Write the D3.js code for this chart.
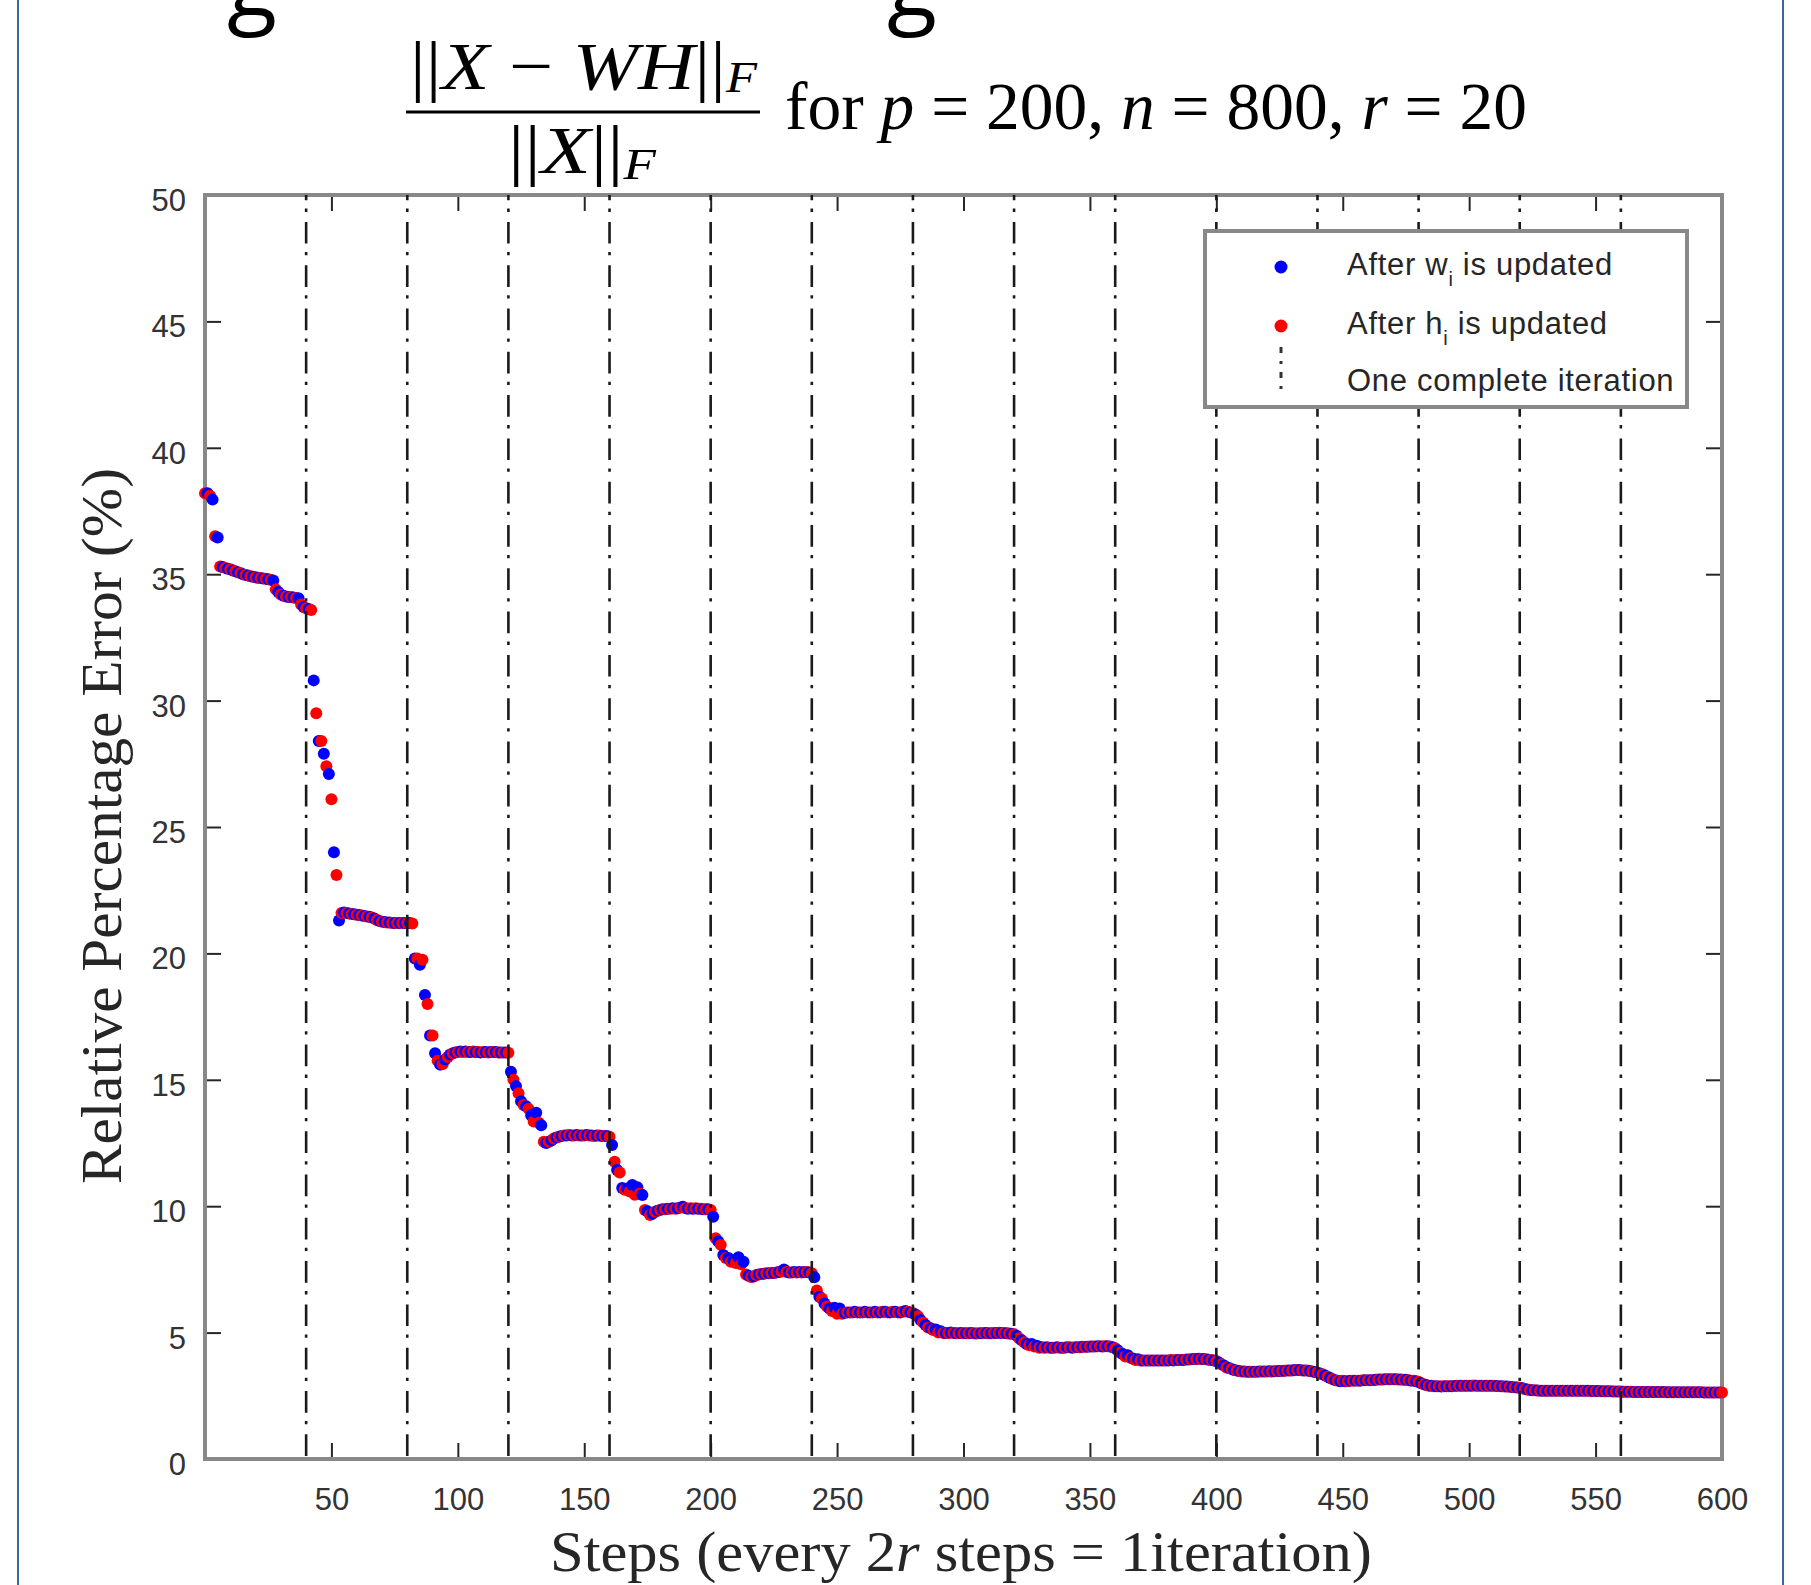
<!DOCTYPE html>
<html><head><meta charset="utf-8">
<script src="https://cdn.jsdelivr.net/npm/d3@7"></script>
<style>body{margin:0;background:#fff;} svg{display:block;}</style>
</head><body>
<svg id="chart" width="1811" height="1585"></svg>
<script>
// Relative percentage error after each step (step 0 .. 600).
// Odd steps: after w_i is updated (blue); even steps: after h_i is updated (red).
const errorByStep = [
 38.2,38.2,38.1,37.95,36.5,36.45,35.3,35.28,35.25,35.22, 35.2,35.15,35.12,35.08,35.05,35.0,34.97,34.95,34.92,34.9,
 34.88,34.86,34.85,34.83,34.82,34.8,34.78,34.75,34.4,34.3, 34.2,34.15,34.12,34.1,34.1,34.08,34.06,34.05,33.8,33.7,
 33.65,
 33.62,33.58,30.8,29.5,28.4,28.4,27.9,27.4,27.1,26.1, 24.0,23.1,21.3,21.6,21.62,21.6,21.58,21.56,21.55,21.53,
 21.52,21.5,21.48,21.46,21.45,21.42,21.38,21.32,21.28,21.25, 21.24,21.22,21.22,21.2,21.2,21.2,21.2,21.2,21.2,21.2,
 21.2,21.18,19.8,19.8,19.55,19.75,18.35,18.0,16.75,16.75, 16.05,15.75,15.6,15.62,15.8,15.9,16.0,16.05,16.08,16.1,
 16.12,16.1,16.12,16.1,16.1,16.12,16.1,16.1,16.08,16.1, 16.1,16.08,16.1,16.1,16.1,16.08,16.08,16.08,16.08,16.07,
 15.32,15.0,14.75,14.47,14.15,14.0,13.95,13.85,13.6,13.35, 13.7,13.3,13.2,12.55,12.5,12.55,12.6,12.68,12.72,12.75,
 12.78,12.8,12.8,12.82,12.8,12.8,12.82,12.8,12.8,12.8, 12.82,12.8,12.8,12.78,12.8,12.8,12.78,12.78,12.78,12.75,
 12.42,11.76,11.43,11.33,10.72,10.65,10.7,10.58,10.84,10.45, 10.75,10.5,10.44,9.85,9.8,9.65,9.7,9.78,9.82,9.85,
 9.88,9.88,9.9,9.9,9.92,9.9,9.92,9.95,9.98,9.92, 9.9,9.92,9.9,9.92,9.9,9.9,9.88,9.88,9.88,9.85,
 9.58,8.73,8.6,8.47,8.07,7.95,7.95,7.8,7.85,7.75, 7.98,7.7,7.8,7.3,7.25,7.2,7.22,7.28,7.3,7.32,
 7.33,7.35,7.35,7.36,7.36,7.38,7.4,7.42,7.5,7.4, 7.38,7.38,7.4,7.38,7.4,7.38,7.4,7.4,7.38,7.35,
 7.19,6.67,6.42,6.35,6.15,6.03,5.95,5.85,5.98,5.75, 5.95,5.75,5.78,5.8,5.8,5.8,5.82,5.8,5.8,5.8,
 5.82,5.8,5.8,5.8,5.82,5.8,5.8,5.82,5.82,5.8, 5.8,5.82,5.82,5.8,5.8,5.82,5.85,5.82,5.8,5.78,
 5.72,5.65,5.5,5.4,5.3,5.2,5.17,5.1,5.12,5.0, 5.05,4.98,4.98,4.98,5.0,4.98,4.97,4.97,4.98,4.97,
 4.97,4.97,4.98,4.97,4.96,4.97,4.97,4.98,4.98,4.97, 4.97,4.98,4.98,4.99,4.98,4.98,4.97,4.96,4.95,4.93,
 4.88,4.78,4.7,4.62,4.55,4.5,4.55,4.45,4.48,4.4, 4.42,4.4,4.42,4.4,4.4,4.4,4.42,4.4,4.4,4.4,
 4.42,4.42,4.4,4.42,4.42,4.42,4.44,4.44,4.44,4.45, 4.45,4.45,4.46,4.46,4.45,4.46,4.46,4.45,4.42,4.38,
 4.3,4.2,4.15,4.05,4.1,4.0,3.98,3.92,3.95,3.9, 3.9,3.9,3.9,3.9,3.9,3.9,3.9,3.9,3.9,3.9,
 3.9,3.92,3.9,3.92,3.92,3.92,3.92,3.94,3.94,3.95, 3.96,3.96,3.97,3.96,3.96,3.95,3.93,3.92,3.9,3.88,
 3.82,3.75,3.7,3.62,3.6,3.56,3.52,3.5,3.48,3.46, 3.46,3.45,3.45,3.45,3.45,3.45,3.46,3.46,3.46,3.46,
 3.47,3.46,3.47,3.48,3.48,3.48,3.49,3.5,3.5,3.5, 3.52,3.52,3.52,3.5,3.5,3.5,3.48,3.46,3.44,3.42,
 3.38,3.35,3.3,3.25,3.2,3.15,3.12,3.1,3.08,3.1, 3.08,3.08,3.1,3.1,3.1,3.1,3.1,3.12,3.12,3.12,
 3.12,3.12,3.13,3.14,3.14,3.14,3.15,3.15,3.15,3.15, 3.15,3.14,3.14,3.13,3.13,3.12,3.1,3.1,3.08,3.06,
 3.0,2.96,2.93,2.9,2.9,2.88,2.88,2.88,2.87,2.88, 2.88,2.88,2.88,2.89,2.9,2.9,2.9,2.9,2.9,2.9,
 2.9,2.91,2.9,2.9,2.9,2.9,2.9,2.9,2.9,2.9, 2.89,2.88,2.88,2.87,2.87,2.86,2.85,2.84,2.83,2.82,
 2.8,2.77,2.75,2.73,2.72,2.72,2.71,2.7,2.7,2.7, 2.7,2.7,2.7,2.7,2.7,2.7,2.7,2.7,2.7,2.7,
 2.7,2.7,2.7,2.7,2.7,2.7,2.7,2.69,2.69,2.69, 2.69,2.68,2.68,2.68,2.68,2.68,2.67,2.67,2.67,2.67,
 2.66,2.66,2.66,2.66,2.65,2.65,2.65,2.65,2.65,2.65, 2.65,2.65,2.65,2.65,2.65,2.65,2.65,2.64,2.64,2.64,
 2.64,2.64,2.64,2.64,2.64,2.64,2.64,2.64,2.64,2.64, 2.64,2.64,2.63,2.63,2.63,2.63,2.63,2.63,2.63,2.63
];
const iterationSteps = [40,80,120,160,200,240,280,320,360,400,440,480,520,560];
const xTickValues = [50,100,150,200,250,300,350,400,450,500,550,600];
const yTickValues = [0,5,10,15,20,25,30,35,40,45,50];
const seriesColors = ["#0000ff", "#ff0000"];
const legendEntries = [
  {main: "After w", sub: "i", rest: " is updated"},
  {main: "After h", sub: "i", rest: " is updated"},
  {main: "One complete iteration", sub: "", rest: ""}
];

const svg = d3.select("#chart");
const plot = {left: 205, right: 1722, top: 195, bottom: 1459};
const x = d3.scaleLinear().domain([0, 600]).range([plot.left, plot.right]);
const y = d3.scaleLinear().domain([0, 50]).range([plot.bottom, plot.top]);

// page frame lines
svg.append("line").attr("x1",18).attr("x2",18).attr("y1",0).attr("y2",1585).attr("stroke","#3d63a0").attr("stroke-width",2);
svg.append("line").attr("x1",1783).attr("x2",1783).attr("y1",0).attr("y2",1585).attr("stroke","#3d63a0").attr("stroke-width",2);
// partial glyphs at the very top (cut-off slide heading)
svg.append("text").attr("x",252).attr("y",16).attr("text-anchor","middle")
  .attr("font-family","Open Sans, sans-serif").attr("font-size",92).attr("fill","#000").text("g");
svg.append("text").attr("x",912).attr("y",16).attr("text-anchor","middle")
  .attr("font-family","Open Sans, sans-serif").attr("font-size",92).attr("fill","#000").text("g");

// axes ticks (inward, all four sides)
const tickColor = "#262626";
const fontAxis = "Liberation Sans, Arial, sans-serif";
function styleAxis(g, labels) {
  g.select(".domain").remove();
  g.selectAll(".tick line").attr("stroke", tickColor).attr("stroke-width", 2);
  g.selectAll(".tick text").attr("fill", "#333").attr("font-family", fontAxis).attr("font-size", 31);
  if (!labels) g.selectAll(".tick text").remove();
}
svg.append("g").attr("transform", `translate(0,${plot.bottom})`)
  .call(d3.axisBottom(x).tickValues(xTickValues).tickSizeInner(-16).tickSizeOuter(0).tickPadding(29))
  .call(g => styleAxis(g, true));
svg.append("g").attr("transform", `translate(0,${plot.top})`)
  .call(d3.axisTop(x).tickValues(xTickValues).tickSizeInner(-16).tickSizeOuter(0))
  .call(g => styleAxis(g, false));
svg.append("g").attr("transform", `translate(${plot.left},0)`)
  .call(d3.axisLeft(y).tickValues(yTickValues).tickSizeInner(-16).tickSizeOuter(0).tickPadding(19))
  .call(g => { styleAxis(g, true); g.selectAll(".tick text").attr("dy", "0.5em"); });
svg.append("g").attr("transform", `translate(${plot.right},0)`)
  .call(d3.axisRight(y).tickValues(yTickValues).tickSizeInner(-16).tickSizeOuter(0))
  .call(g => styleAxis(g, false));

// box
svg.append("rect").attr("x", plot.left).attr("y", plot.top)
  .attr("width", plot.right - plot.left).attr("height", plot.bottom - plot.top)
  .attr("fill", "none").attr("stroke", "#888").attr("stroke-width", 4);

// data points (in step order)
const points = errorByStep.map((v, i) => ({step: i, value: v}));
svg.append("g").selectAll("circle").data(points).join("circle")
  .attr("cx", d => x(d.step)).attr("cy", d => y(d.value)).attr("r", 6)
  .attr("fill", d => d.step % 2 === 1 ? seriesColors[0] : seriesColors[1]);

// iteration boundaries
const dashPattern = "21.7 8.3 3.3 10";
svg.append("g").selectAll("line").data(iterationSteps).join("line")
  .attr("x1", d => x(d)).attr("x2", d => x(d)).attr("y1", plot.top).attr("y2", plot.bottom)
  .attr("stroke", "#1a1a1a").attr("stroke-width", 2.6)
  .attr("stroke-dasharray", dashPattern).attr("stroke-dashoffset", 16.4);

// legend
const lg = svg.append("g");
lg.append("rect").attr("x", 1205).attr("y", 231).attr("width", 482).attr("height", 176)
  .attr("fill", "#fff").attr("stroke", "#888").attr("stroke-width", 4);
lg.append("circle").attr("cx", 1281).attr("cy", 267).attr("r", 6.5).attr("fill", seriesColors[0]);
lg.append("circle").attr("cx", 1281).attr("cy", 326).attr("r", 6.5).attr("fill", seriesColors[1]);
lg.append("line").attr("x1", 1281).attr("x2", 1281).attr("y1", 347).attr("y2", 390)
  .attr("stroke", "#333").attr("stroke-width", 3).attr("stroke-dasharray", "6 8 3 8");
const legendBaselines = [275, 334, 391];
legendEntries.forEach((e, i) => {
  const t = lg.append("text").attr("x", 1347).attr("y", legendBaselines[i])
    .attr("font-family", fontAxis).attr("font-size", 31).attr("fill", "#262626")
    .attr("letter-spacing", 0.7);
  t.append("tspan").text(e.main);
  if (e.sub) {
    t.append("tspan").attr("font-size", 20).attr("dy", 11).text(e.sub);
    t.append("tspan").attr("dy", -11).text(e.rest);
  }
});

// title (fraction + parameters)
const serif = "Liberation Serif, Times New Roman, serif";
const num = svg.append("text").attr("x", 410).attr("y", 89).attr("font-family", serif)
  .attr("font-size", 68).attr("textLength", 347).attr("lengthAdjust", "spacingAndGlyphs");
num.append("tspan").text("||");
num.append("tspan").attr("font-style", "italic").text("X");
num.append("tspan").text(" \u2212 ");
num.append("tspan").attr("font-style", "italic").text("WH");
num.append("tspan").text("||");
num.append("tspan").attr("font-style", "italic").attr("font-size", 44).attr("dy", 3).text("F");
svg.append("line").attr("x1", 406).attr("x2", 760).attr("y1", 112).attr("y2", 112)
  .attr("stroke", "#000").attr("stroke-width", 3);
const den = svg.append("text").attr("x", 508).attr("y", 173).attr("font-family", serif)
  .attr("font-size", 68).attr("textLength", 148).attr("lengthAdjust", "spacingAndGlyphs");
den.append("tspan").text("||");
den.append("tspan").attr("font-style", "italic").text("X");
den.append("tspan").text("||");
den.append("tspan").attr("font-style", "italic").attr("font-size", 44).attr("dy", 6).text("F");
const par = svg.append("text").attr("x", 785).attr("y", 129).attr("font-family", serif)
  .attr("font-size", 67).attr("textLength", 742).attr("lengthAdjust", "spacingAndGlyphs");
par.append("tspan").text("for ");
par.append("tspan").attr("font-style", "italic").text("p");
par.append("tspan").text(" = 200, ");
par.append("tspan").attr("font-style", "italic").text("n");
par.append("tspan").text(" = 800, ");
par.append("tspan").attr("font-style", "italic").text("r");
par.append("tspan").text(" = 20");

// axis labels
const xl = svg.append("text").attr("x", 550).attr("y", 1571).attr("font-family", serif)
  .attr("font-size", 56).attr("fill", "#262626").attr("textLength", 822).attr("lengthAdjust", "spacingAndGlyphs");
xl.append("tspan").text("Steps (every 2");
xl.append("tspan").attr("font-style", "italic").text("r");
xl.append("tspan").text(" steps = 1iteration)");
svg.append("text").attr("transform", "translate(121,826) rotate(-90)").attr("text-anchor", "middle")
  .attr("font-family", serif).attr("font-size", 57).attr("fill", "#262626")
  .attr("textLength", 716).attr("lengthAdjust", "spacingAndGlyphs")
  .text("Relative Percentage Error (%)");
</script>
</body></html>
